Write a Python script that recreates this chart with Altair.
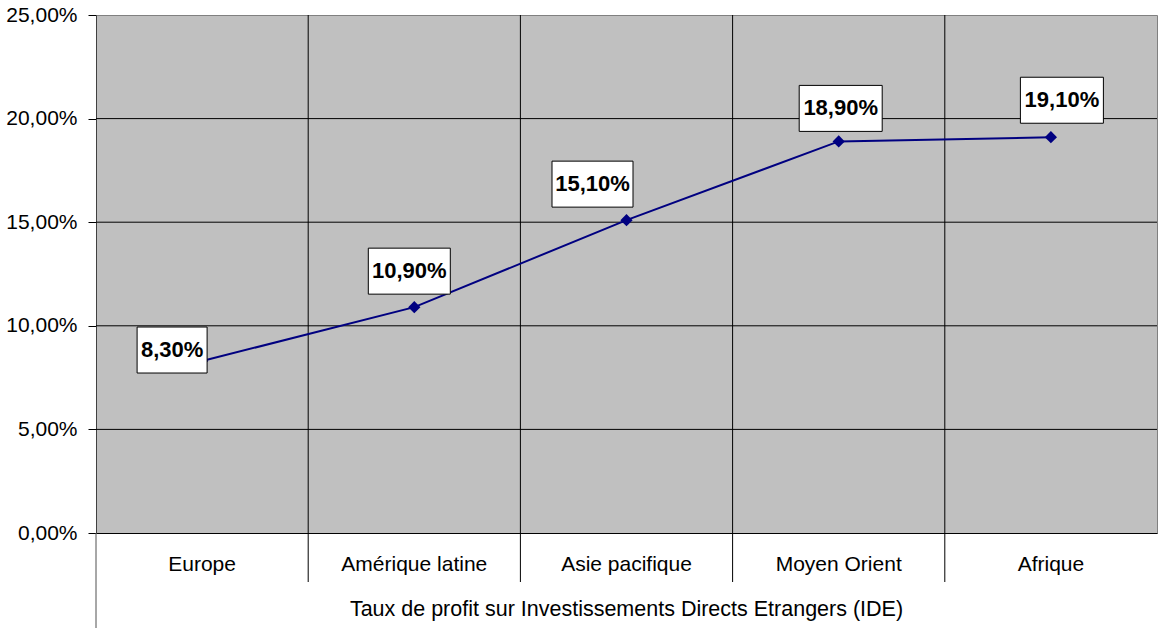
import altair as alt
import pandas as pd

categories = ["Europe", "Amérique latine", "Asie pacifique", "Moyen Orient", "Afrique"]
values = [8.3, 10.9, 15.1, 18.9, 19.1]
y_ticks = [0, 5, 10, 15, 20, 25]
grid_values = [5, 10, 15, 20]
x_title = "Taux de profit sur Investissements Directs Etrangers (IDE)"

labels = [f"{v:.2f}".replace(".", ",") + "%" for v in values]
df = pd.DataFrame({"cat": categories, "val": values, "label": labels})

# label box style: (dx, dy, width) relative to the point, in pixels
label_style = [(-30, -11, 70), (-5, -36, 82), (-34, -36, 81), (2, -33, 83), (11, -37, 83)]

W, H = 1061, 518
FONT = "Liberation Sans"

xscale = alt.Scale(type="band", domain=categories, paddingInner=0, paddingOuter=0)
yscale = alt.Scale(domain=[0, 25], nice=False)

x_enc = alt.X("cat:N", sort=categories, scale=xscale,
              axis=alt.Axis(title=None, ticks=False, grid=False, domainColor="black",
                            labelFontSize=21, labelColor="black", labelPadding=31,
                            labelBaseline="middle", labelAlign="center", labelAngle=0,
                            labelFont=FONT))
y_enc = alt.Y("val:Q", scale=yscale,
              axis=alt.Axis(title=None, values=y_ticks, grid=False, tickColor="black",
                            tickSize=8, domainColor="#404040", labelFontSize=21,
                            labelColor="black", labelPadding=11, labelFont=FONT,
                            labelExpr="replace(format(datum.value, '.2f'), '.', ',') + '%'"))

base = alt.Chart(df)

line = base.mark_line(color="#000080", strokeWidth=2).encode(x=x_enc, y=y_enc)
pts = base.mark_point(shape="diamond", filled=True, color="#000080", size=150, opacity=1).encode(
    x=alt.X("cat:N", sort=categories, scale=xscale), y=alt.Y("val:Q", scale=yscale))

grid_df = pd.DataFrame({"g": grid_values})
hgrid = alt.Chart(grid_df).mark_rule(color="black", strokeWidth=1).encode(
    y=alt.Y("g:Q", scale=yscale))

sep_df = pd.DataFrame({"cat": categories[1:]})
vgrid = alt.Chart(sep_df).mark_rule(color="black", strokeWidth=1).encode(
    x=alt.X("cat:N", sort=categories, scale=xscale, bandPosition=0),
    y=alt.value(0), y2=alt.value(H + 49))

left_rule = alt.Chart(pd.DataFrame({"a": [0]})).mark_rule(color="#505050", strokeWidth=1).encode(
    x=alt.value(0), y=alt.value(H), y2=alt.value(H + 95))

title_txt = alt.Chart(pd.DataFrame({"t": [x_title]})).mark_text(
    fontSize=21.5, font=FONT, color="black", baseline="middle", align="center").encode(
    x=alt.value(W / 2), y=alt.value(H + 77), text="t:N")

layers = [hgrid, vgrid, left_rule, line, pts]
for i, (dx, dy, w) in enumerate(label_style):
    h = 46
    path = f"M{dx - w / 2},{dy - h / 2}h{w}v{h}h{-w}z"
    sub = alt.Chart(df.iloc[[i]])
    box = sub.mark_point(shape=path, size=4, filled=True, fill="white", stroke="black",
                         strokeWidth=1, opacity=1).encode(
        x=alt.X("cat:N", sort=categories, scale=xscale), y=alt.Y("val:Q", scale=yscale))
    txt = sub.mark_text(fontSize=22, fontWeight="bold", font=FONT, color="black",
                        dx=dx, dy=dy, align="center", baseline="middle").encode(
        x=alt.X("cat:N", sort=categories, scale=xscale), y=alt.Y("val:Q", scale=yscale),
        text="label:N")
    layers += [box, txt]
layers.append(title_txt)

chart = alt.layer(*layers).properties(
    width=W, height=H,
    autosize=alt.AutoSizeParams(type="none"),
    padding={"left": 96, "top": 15, "right": 1, "bottom": 95},
    background="white",
).configure(
    font=FONT,
    view=alt.ViewConfig(fill="#C0C0C0", stroke="#808080", strokeWidth=1),
)

chart.save("out.html", embed_options={"renderer": "svg", "actions": False})
